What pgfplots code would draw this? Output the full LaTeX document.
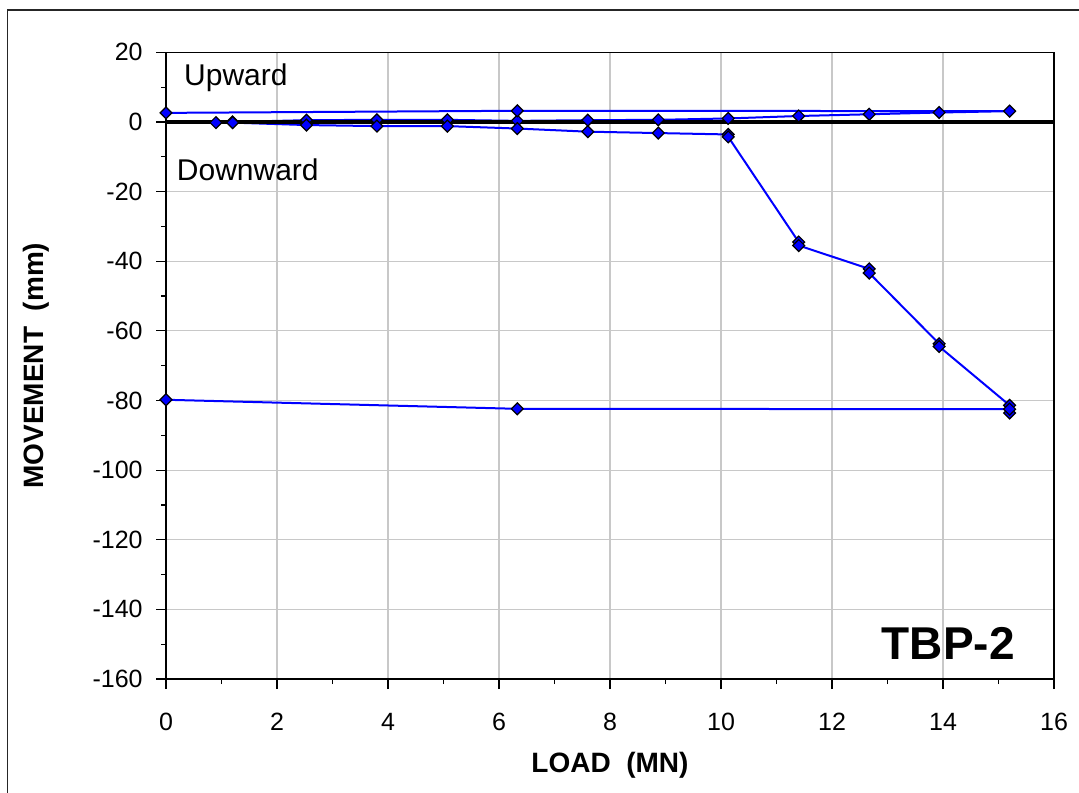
\documentclass[border=0pt]{standalone}
\usepackage{fontspec}
\setmainfont{Liberation Sans}
\usepackage{pgfplots}
\usepackage{pgfplotstable}
\pgfplotsset{compat=1.18}
\definecolor{gridgray}{RGB}{200,200,200}
\definecolor{xlblue}{RGB}{0,0,255}

\pgfplotstableread{
x y
1.2 0
2.53 0.5
3.8 0.6
5.07 0.6
6.33 0.3
7.6 0.5
8.87 0.6
10.13 1.0
11.4 1.7
12.67 2.2
13.93 2.7
15.2 3.1
6.33 3.2
0 2.6
}\up

\pgfplotstableread{
x y
0.9 -0.2
1.2 -0.2
2.53 -0.9
3.8 -1.2
5.07 -1.2
6.33 -1.9
7.6 -2.8
8.87 -3.2
10.13 -3.6
10.13 -4.3
11.4 -34.5
11.4 -35.5
12.67 -42.2
12.67 -43.4
13.93 -63.7
13.93 -64.5
15.2 -81.4
15.2 -83.6
15.2 -82.5
6.33 -82.4
0 -79.8
}\down

\begin{document}
\begin{tikzpicture}
\useasboundingbox (0,0) rectangle (539.5pt,396pt);
\draw[line width=0.6pt, black!85] (3.6pt,-2pt) -- (3.6pt,391pt) -- (542pt,391pt);
\begin{axis}[
  at={(83pt,56.5pt)}, anchor=south west,
  scale only axis, width=444pt, height=313.35pt,
  xmin=0, xmax=16, ymin=-160, ymax=20,
  xtick={0,2,...,16}, ytick={-160,-140,...,20},
  minor x tick num=1, minor y tick num=1,
  tick align=outside, xtick pos=bottom, ytick pos=left,
  major tick length=5pt, minor tick length=2.5pt,
  grid=major, major grid style={gridgray, line width=0.6pt},
  axis line style={black, line width=0.75pt},
  tick style={black, line width=0.6pt},
  ticklabel style={font=\fontsize{12.5}{15}\selectfont, inner sep=0pt},
  /pgf/number format/assume math mode=true,
  xticklabel style={anchor=north, yshift=-12pt},
  yticklabel style={anchor=east, xshift=-6.5pt},
  xlabel={LOAD\ \ (MN)}, ylabel={MOVEMENT\ \ (mm)},
  label style={font=\bfseries\fontsize{14}{16}\selectfont},
  xlabel style={at={(axis description cs:0.5,-0.137)}, anchor=center},
  ylabel style={at={(axis description cs:-0.1464,0.5)}, anchor=center},
  clip=false,
]
\addplot[xlblue, line width=1pt] table[x=x,y=y] {\up};
\addplot[xlblue, line width=1pt] table[x=x,y=y] {\down};
\addplot[black, line width=2pt] coordinates {(0,0) (16,0)};
\addplot[only marks, mark=square*, mark size=2.1pt,
  mark options={rotate=45, fill=xlblue, draw=black, line width=0.6pt}]
  table[x=x,y=y] {\up};
\addplot[only marks, mark=square*, mark size=2.1pt,
  mark options={rotate=45, fill=xlblue, draw=black, line width=0.6pt}]
  table[x=x,y=y] {\down};
\node[anchor=base west, inner sep=0pt, font=\fontsize{15}{18}\selectfont] at (axis cs:0.32,10.5) {Upward};
\node[anchor=base west, inner sep=0pt, font=\fontsize{15}{18}\selectfont] at (axis cs:0.19,-16.8) {Downward};
\node[anchor=base east, inner sep=0pt, font=\bfseries\fontsize{23}{27}\selectfont] at (axis cs:15.3,-154.4) {TBP-2};
\end{axis}
\end{tikzpicture}
\end{document}
